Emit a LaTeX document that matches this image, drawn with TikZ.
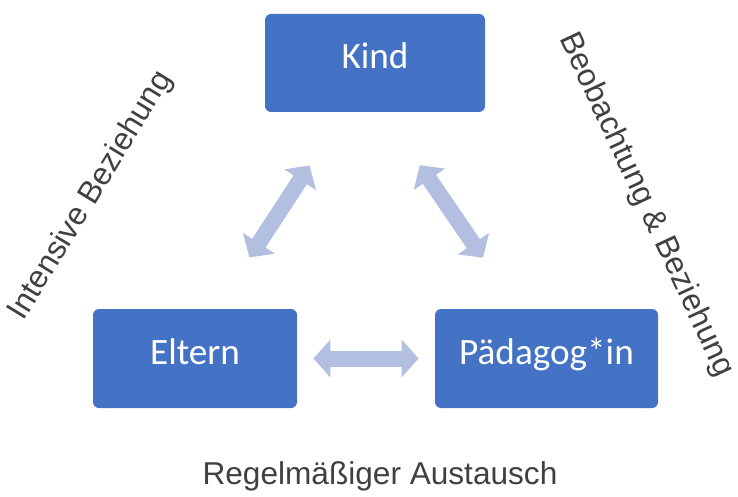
\documentclass[tikz,border=0pt]{standalone}
\usepackage{fontspec}
\setmainfont{Liberation Sans}
\newfontfamily\boxfont{Carlito}
\usetikzlibrary{arrows.meta}
\definecolor{boxblue}{RGB}{68,114,196}
\definecolor{arrowblue}{RGB}{178,191,225}
\definecolor{labelgray}{RGB}{64,64,64}

\begin{document}
\begin{tikzpicture}[x=0.5pt,y=-0.5pt,
    box node/.style={rectangle,rounded corners=3pt,fill=boxblue,text=white,inner sep=0pt,text height=12pt,text depth=6pt,font=\boxfont\fontsize{18.6}{20}\selectfont},
    label node/.style={text=labelgray,inner sep=0pt,font=\fontsize{15.8}{18}\selectfont},
    dbl/.style={arrowblue,line width=8pt,{Triangle[width=18.5pt,length=8.5pt]}-{Triangle[width=18.5pt,length=8.5pt]}}]
    \useasboundingbox (0,0) rectangle (738,497);

    \node [box node, minimum width=110pt, minimum height=49pt](kind) at (375,63){Kind};
    \node [box node, minimum width=102pt, minimum height=49.5pt](eltern) at (195,358.5){Eltern};
    \node [box node, minimum width=111.5pt, minimum height=49.5pt](paed) at (546.5,358.5){Pädagog*in};

    \node [label node, rotate=58.5](l1) at (91,196){Intensive Beziehung};
    \node [label node, rotate=-65](l2) at (646,205){Beobachtung \& Beziehung};
    \node [label node](l3) at (380,476){Regelmäßiger Austausch};

    \draw [dbl, shorten <=31.7pt, shorten >=30.5pt] (kind.238) -- (eltern.67);
    \draw [dbl, shorten <=32pt, shorten >=30.8pt] (kind.280) -- (paed.120);
    \draw [dbl, shorten <=8pt, shorten >=8pt] (eltern) -- (paed);
\end{tikzpicture}
\end{document}
